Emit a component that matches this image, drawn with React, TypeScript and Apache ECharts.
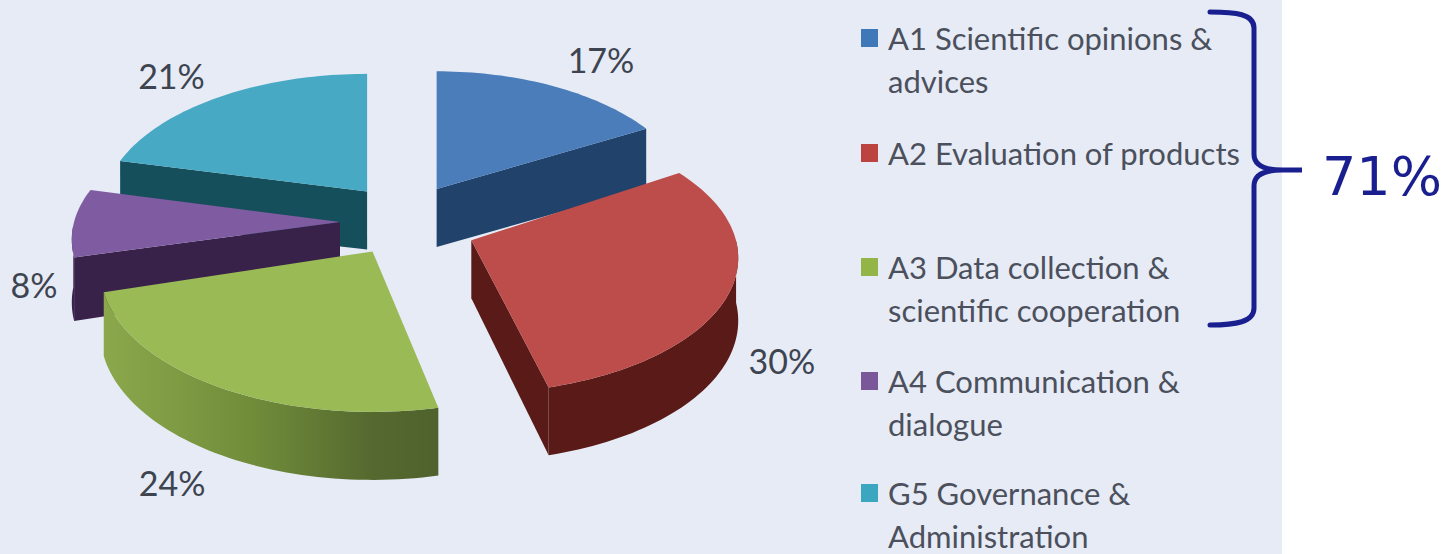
import React, { useEffect, useRef } from "react";
import * as echarts from "echarts";

const sliceNames = ["A1", "A2", "A3", "A4", "G5"];
const sliceValues = [17, 30, 24, 8, 21];
const sliceLabels = ["17%", "30%", "24%", "8%", "21%"];
const legendLines = [
  ["A1 Scientific opinions &", "advices"],
  ["A2 Evaluation of products"],
  ["A3 Data collection &", "scientific cooperation"],
  ["A4 Communication &", "dialogue"],
  ["G5 Governance &", "Administration"],
];
const groupTotal = "71%";

const topColors = ["#4a7dba", "#bd4d4a", "#99ba55", "#7f5ba1", "#47a9c3"];
const wallColors = ["#21426a", "#5a1a17", "#6d8838", "#38224a", "#164f5c"];
const legendColors = ["#3f78b8", "#bb4440", "#93b548", "#7a5798", "#3ba6c0"];
const paintOrder = [1, 3, 4, 2, 0];

// Layout corrections per slice, matching the perspective of the original 3-D drawing.
const labelOffsets = [[48, -27], [57, 60], [-38, 99], [-40, 62], [-50, -21]];
const apexNudge = [[-7, 0], [0, 5], [2, 1], [2, 2], [2, 0]];
const angleShift = [[0, 0], [-4, -4], [-1.5, -2], [-0.5, 0], [-0.7, 0]];
const scaleX = [0.97, 1.01, 1.03, 1.015, 1];
const scaleY = [1, 1, 1.05, 1, 1];

const CX = 408, CY = 220, EX = 70, EY = 36;
const RX = 262, RY = 133, PERSP = 0.13;
const rad = (d: number) => (d * Math.PI) / 180;
const rimAt = (t: number) => {
  const u = Math.sin(rad(t)), v = -Math.cos(rad(t));
  const w = 1 - PERSP * v;
  return { x: (RX * u) / w, y: (RY * v) / w, v };
};
const depthAt = (v: number) => 62 + 6 * v;

function renderSlice(params: any, api: any) {
  const i = params.dataIndex;
  const total = sliceValues.reduce((a, b) => a + b, 0);
  const before = sliceValues.slice(0, i).reduce((a, b) => a + b, 0);
  const a0 = (before / total) * 360;
  const a1 = a0 + (api.value(0) / total) * 360;
  const tm = (a0 + a1) / 2;
  const t0 = a0 + angleShift[i][0];
  const t1 = a1 + angleShift[i][1];
  const ax = CX + EX * Math.sin(rad(tm)) + apexNudge[i][0];
  const ay = CY - EY * Math.cos(rad(tm)) + apexNudge[i][1];
  const pt = (t: number) => {
    const r = rimAt(t);
    return [ax + r.x * scaleX[i], ay + r.y * scaleY[i]];
  };
  const ptLow = (t: number) => {
    const r = rimAt(t);
    return [ax + r.x * scaleX[i], ay + r.y * scaleY[i] + depthAt(r.v)];
  };
  const arc: number[] = [];
  for (let t = t0; t < t1; t += 1.5) arc.push(t);
  arc.push(t1);
  const z = paintOrder[i] * 10;
  const children: any[] = [];
  const wall = (points: number[][], fill: any, dz: number) =>
    children.push({ type: "polygon", z2: z + dz, shape: { points }, style: { fill } });

  const apexLow = [ax, ay + depthAt(0) - 4];
  if (Math.sin(rad(t0)) < -0.01) wall([[ax, ay], pt(t0), ptLow(t0), apexLow], wallColors[i], 1);
  if (Math.sin(rad(t1)) > 0.01) wall([[ax, ay], pt(t1), ptLow(t1), apexLow], wallColors[i], 1);

  const front = arc.filter((t) => Math.cos(rad(t)) < 0);
  if (front.length > 1) {
    const fill =
      i === 2
        ? new echarts.graphic.LinearGradient(0, 0, 1, 0, [
            { offset: 0, color: "#8ca84c" },
            { offset: 0.45, color: "#708c3a" },
            { offset: 0.8, color: "#55692f" },
            { offset: 1, color: "#4f622d" },
          ])
        : wallColors[i];
    wall([...front.map(pt), ...front.slice().reverse().map(ptLow)], fill, 2);
  }
  children.push({
    type: "polygon",
    z2: z + 3,
    shape: { points: [[ax, ay], ...arc.map(pt)] },
    style: { fill: topColors[i] },
  });
  const lab = pt(tm);
  children.push({
    type: "text",
    z2: 100,
    x: lab[0] + labelOffsets[i][0],
    y: lab[1] + labelOffsets[i][1],
    style: {
      text: sliceLabels[i],
      fill: "#3d4450",
      font: "34px Lato, sans-serif",
      align: "center",
      verticalAlign: "middle",
    },
  });
  return { type: "group", children };
}

const LEGEND_TOPS = [38, 153, 267, 381, 493];
const LINE_GAP = 42.5;
const BRACE =
  "M1210 12 C1236 12 1254 14 1254 28 L1254 154 C1254 164 1262 170 1282 170 L1302 170 L1282 170 C1262 170 1254 176 1254 186 L1254 308 C1254 322 1236 325 1210 325";

export default function App() {
  const ref = useRef<HTMLDivElement>(null);
  useEffect(() => {
    document.body.style.margin = "0";
    echarts.graphic.registerShape("brace71", echarts.graphic.extendPath(BRACE, {}) as any);
    const chart = echarts.init(ref.current!, undefined, { renderer: "svg" });
    const legendEls: any[] = [];
    legendLines.forEach((lines, i) => {
      legendEls.push({
        type: "rect",
        shape: { x: 861, y: LEGEND_TOPS[i] - 9, width: 17, height: 18 },
        style: { fill: legendColors[i] },
      });
      lines.forEach((line, j) =>
        legendEls.push({
          type: "text",
          x: 888,
          y: LEGEND_TOPS[i] + j * LINE_GAP,
          style: {
            text: line,
            fill: "#4b505c",
            font: "31px Lato, sans-serif",
            lineHeight: 30,
            verticalAlign: "middle",
          },
        })
      );
    });
    chart.setOption({
      animation: false,
      backgroundColor: "#ffffff",
      graphic: [
        { type: "rect", z: -10, shape: { x: 0, y: 0, width: 1282, height: 554 }, style: { fill: "#e6ebf6" } },
        ...legendEls,
        {
          type: "brace71",
          x: 0,
          y: 0,
          style: { fill: "none", stroke: "#1a1f90", lineWidth: 5, lineCap: "round" },
        },
        {
          type: "text",
          x: 1322,
          y: 176,
          style: {
            text: groupTotal,
            fill: "#1a1f90",
            font: '54px "DejaVu Sans", sans-serif',
            verticalAlign: "middle",
          },
        },
      ],
      series: [
        {
          type: "custom",
          coordinateSystem: "none",
          renderItem: renderSlice,
          data: sliceValues.map((value, i) => ({ name: sliceNames[i], value: [value] })),
        },
      ],
    });
    return () => chart.dispose();
  }, []);
  return <div ref={ref} style={{ width: 1456, height: 554 }} />;
}
